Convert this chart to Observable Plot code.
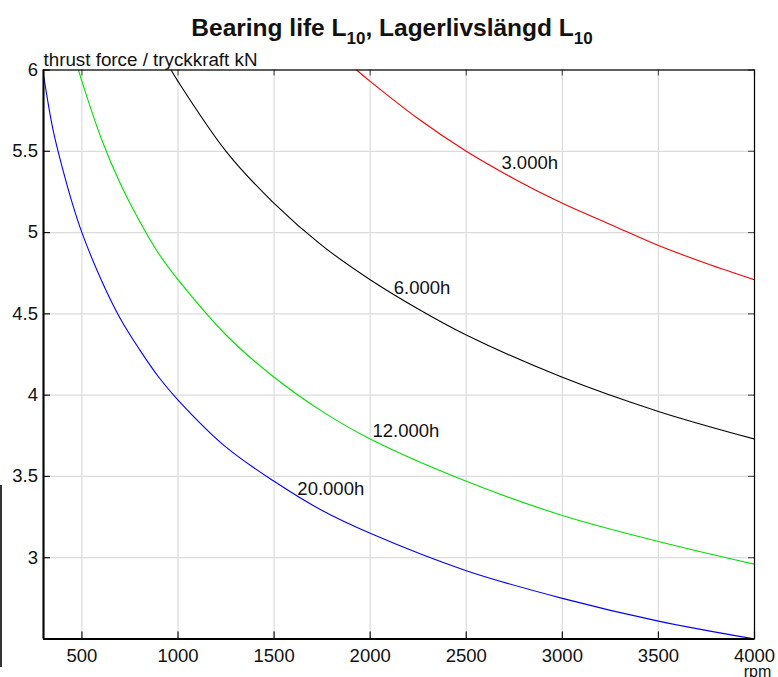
<!DOCTYPE html>
<html>
<head>
<meta charset="utf-8">
<script src="https://cdn.jsdelivr.net/npm/d3@7"></script>
<script src="https://cdn.jsdelivr.net/npm/@observablehq/plot@0.6"></script>
<style>
  html, body { margin: 0; padding: 0; background: #fff; }
  #wrap { position: relative; width: 778px; height: 677px; overflow: hidden; font-family: "Liberation Sans", Helvetica, Arial, sans-serif; }
  #title { position: absolute; left: 0; width: 784px; top: 16px; text-align: center; font-weight: bold; font-size: 24.5px; color: #111; line-height: 24px; }
  #title sub { font-size: 17px; vertical-align: -8px; line-height: 0; }
  #edge { position: absolute; left: 0; top: 485px; width: 1.5px; height: 182px; background: #333; }
  #chart { position: absolute; left: 0; top: 0; }
</style>
</head>
<body>
<div id="wrap">
  <div id="chart"></div>
  <div id="title">Bearing life L<sub>10</sub>, Lagerlivslängd L<sub>10</sub></div>
  <div id="edge"></div>
</div>
<script>
// ---- data ----
const rpm20000 = [300, 350, 400, 450, 500, 600, 700, 800, 900, 1000, 1250, 1500, 1750, 2000, 2500, 3000, 3500, 4000];
const kN20000  = [5.97, 5.63, 5.39, 5.18, 5.00, 4.71, 4.47, 4.28, 4.11, 3.97, 3.68, 3.47, 3.29, 3.15, 2.92, 2.75, 2.61, 2.50];

const rpm12000 = [482, 500, 600, 700, 800, 900, 1000, 1250, 1500, 1750, 2000, 2500, 3000, 3500, 4000];
const kN12000  = [6.00, 5.93, 5.58, 5.30, 5.07, 4.87, 4.71, 4.37, 4.11, 3.90, 3.73, 3.47, 3.26, 3.10, 2.96];

const rpm6000 = [964, 1000, 1250, 1500, 1750, 2000, 2250, 2500, 3000, 3500, 4000];
const kN6000  = [6.00, 5.93, 5.50, 5.18, 4.92, 4.71, 4.53, 4.37, 4.11, 3.90, 3.73];

const rpm3000 = [1929, 2000, 2250, 2500, 2750, 3000, 3250, 3500, 3750, 4000];
const kN3000  = [6.00, 5.93, 5.70, 5.50, 5.33, 5.18, 5.05, 4.92, 4.81, 4.71];

const seriesNames  = ["20.000h", "12.000h", "6.000h", "3.000h"];
const seriesColors = ["#0000ff", "#00e000", "#000000", "#ff0000"];

const labelRpm = [1621, 2012, 2123, 2683];
const labelKN  = [3.42, 3.78, 4.66, 5.43];

const xTicks = [500, 1000, 1500, 2000, 2500, 3000, 3500, 4000];
const yTicks = [3, 3.5, 4, 4.5, 5, 5.5, 6];
const xDomain = [300, 4000];
const yDomain = [2.5, 6];

const yLabel = "thrust force / tryckkraft kN";
const xLabel = "rpm";

// ---- build table ----
const rpmSets = [rpm20000, rpm12000, rpm6000, rpm3000];
const kNSets = [kN20000, kN12000, kN6000, kN3000];
const rows = [];
rpmSets.forEach((xs, i) => xs.forEach((x, j) => rows.push({series: seriesNames[i], rpm: x, kN: kNSets[i][j]})));
const labels = seriesNames.map((s, i) => ({series: s, rpm: labelRpm[i], kN: labelKN[i]}));

const W = 778, H = 677;
const mL = 43, mR = W - 754, mT = 69.5, mB = H - 638.5;
const innerW = W - mL - mR, innerH = H - mT - mB;
const font = "'Liberation Sans', Helvetica, Arial, sans-serif";

const chart = Plot.plot({
  width: W,
  height: H,
  marginLeft: mL,
  marginRight: mR,
  marginTop: mT,
  marginBottom: mB,
  style: {fontFamily: font, fontSize: "18px", color: "#111", background: "white", overflow: "visible"},
  x: {domain: xDomain, ticks: xTicks, label: null},
  y: {domain: yDomain, ticks: yTicks, label: null},
  color: {domain: seriesNames, range: seriesColors},
  marks: [
    // grid
    Plot.ruleX(xTicks, {stroke: "#dcdcdc", strokeWidth: 1.2}),
    Plot.ruleY(yTicks, {stroke: "#dcdcdc", strokeWidth: 1.2}),
    // inner ticks
    Plot.tickX(xTicks, {x: d => d, insetTop: innerH - 7, stroke: "#111", strokeWidth: 1.2}),
    Plot.tickX(xTicks, {x: d => d, insetBottom: innerH - 6, stroke: "#555", strokeWidth: 1.2}),
    Plot.tickY(yTicks, {y: d => d, insetRight: innerW - 7, stroke: "#111", strokeWidth: 1.2}),
    Plot.tickY(yTicks, {y: d => d, insetLeft: innerW - 6, stroke: "#555", strokeWidth: 1.2}),
    // curves
    Plot.line(rows, {x: "rpm", y: "kN", z: "series", stroke: "series", strokeWidth: 1.1, curve: "catmull-rom", clip: true}),
    // frame
    Plot.frame({stroke: "#000", strokeWidth: 1.2}),
    Plot.ruleX([xDomain[0]], {stroke: "#000", strokeWidth: 2}),
    Plot.ruleY([yDomain[0]], {stroke: "#000", strokeWidth: 2}),
    // axes labels
    Plot.axisX(xTicks, {tickSize: 0, tickPadding: 9.5, fontSize: 18.5, fill: "#111", tickFormat: d => String(d)}),
    Plot.axisY(yTicks, {tickSize: 0, tickPadding: 5.5, fontSize: 18.5, fill: "#111", tickFormat: d => String(d)}),
    // curve labels
    Plot.text(labels, {x: "rpm", y: "kN", text: "series", textAnchor: "start", fontSize: 18.5, fill: "#111"}),
    // axis titles
    Plot.text([yLabel], {frameAnchor: "top-left", text: d => d, textAnchor: "start", lineAnchor: "bottom", dy: -4, fontSize: 18.8, fill: "#111"}),
    Plot.text([xLabel], {frameAnchor: "bottom-right", text: d => d, textAnchor: "middle", lineAnchor: "bottom", dx: 3, dy: 38, fontSize: 16, fill: "#111"})
  ]
});
document.getElementById("chart").appendChild(chart);
</script>
</body>
</html>
